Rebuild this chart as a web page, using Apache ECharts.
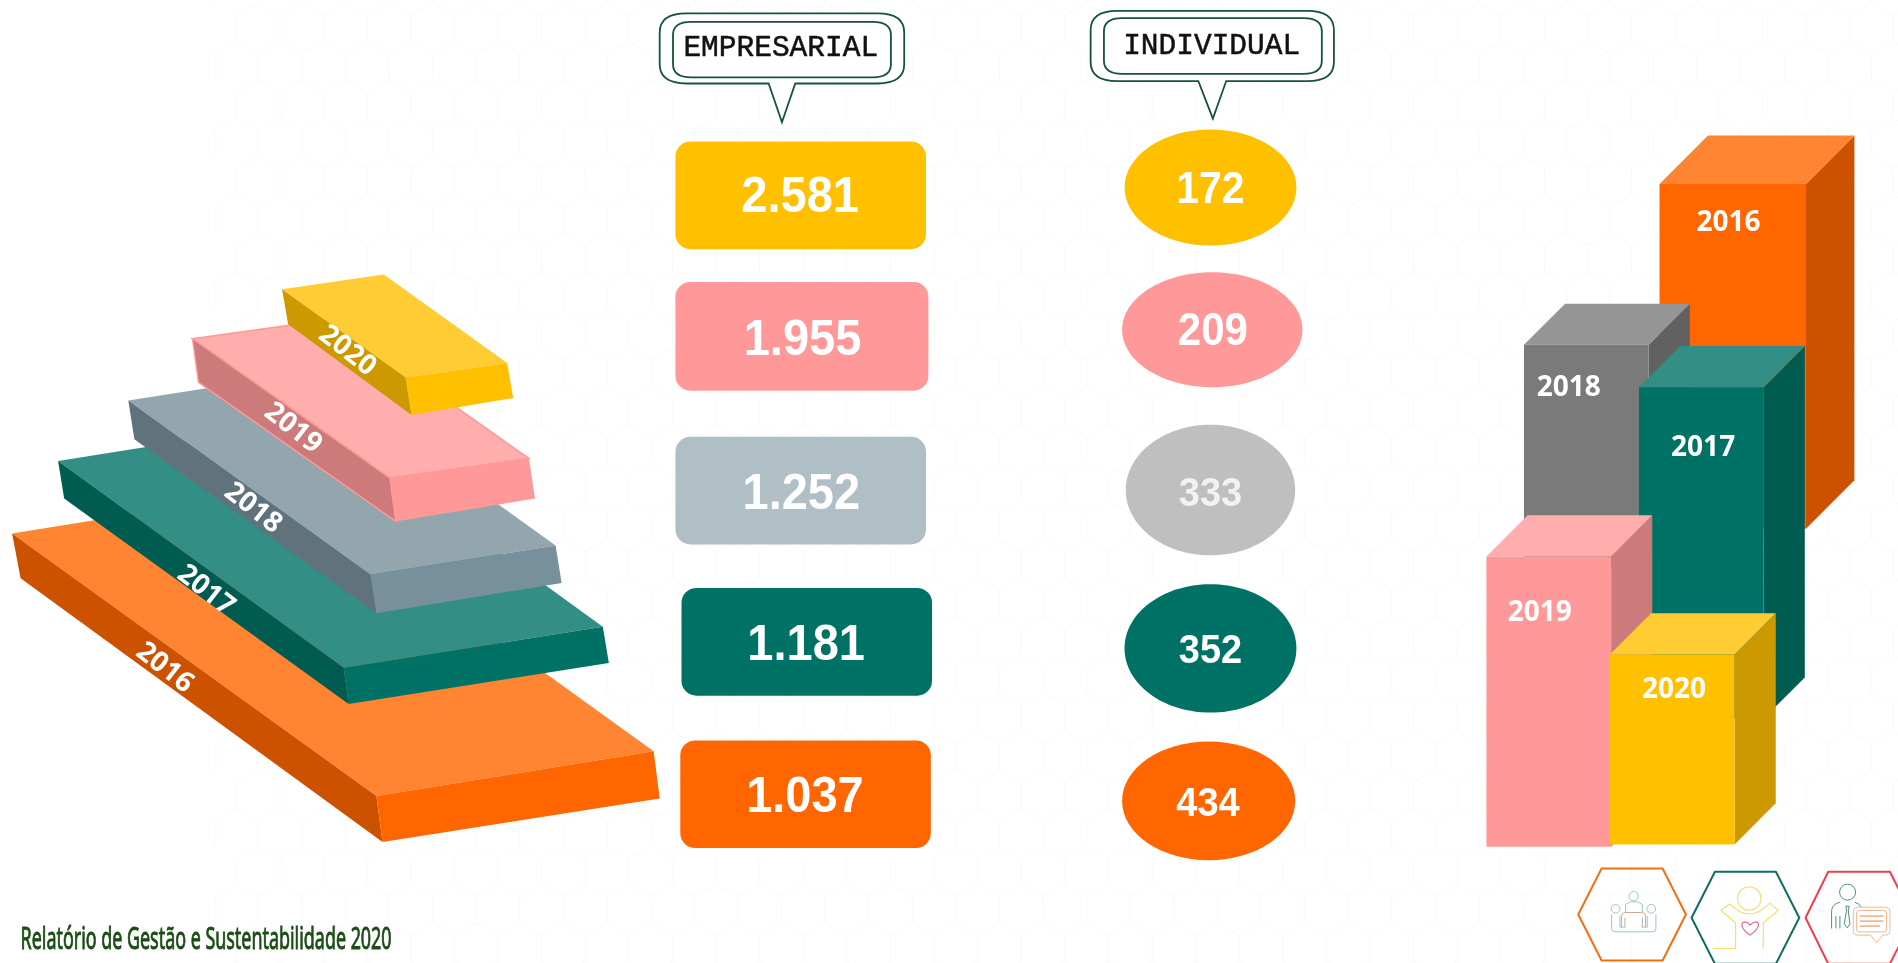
<!DOCTYPE html>
<html>
<head>
<meta charset="utf-8">
<style>html,body{margin:0;padding:0;background:#fff;overflow:hidden}#c{width:1898px;height:963px}</style>
<script src="https://cdn.jsdelivr.net/npm/echarts@6/dist/echarts.min.js"></script>
</head>
<body>
<div id="c"></div>
<script>
// ---- values ----
const years = ['2016', '2017', '2018', '2019', '2020'];
const empresarial = [1037, 1181, 1252, 1955, 2581];
const individual = [434, 352, 333, 209, 172];
const headers = ['EMPRESARIAL', 'INDIVIDUAL'];
const footer = 'Relatório de Gestão e Sustentabilidade 2020';

// ---- styles ----
const pillColors = ['#FF6600', '#007265', '#B0BEC5', '#FF9999', '#FFC000'];
const ovalColors = ['#FF6600', '#007265', '#BFBFBF', '#FF9999', '#FFC000'];
const slabColors = [
  {top: '#FF8533', side: '#CC5200', front: '#FF6600'},
  {top: '#338E85', side: '#005B51', front: '#007265'},
  {top: '#93A6AE', side: '#60737D', front: '#78909C'},
  {top: '#FFADAD', side: '#CC7A7A', front: '#FF9999'},
  {top: '#FFCD33', side: '#CC9A00', front: '#FFC000'}
];
const columnColors = [
  slabColors[0], slabColors[1],
  {top: '#959595', side: '#616161', front: '#7A7A7A'},
  slabColors[3], slabColors[4]
];

// ---- layout, in units of a hidden full-page 1568 x 796 coordinate system ----
const pillBoxes = [[562,612,769,701],[563,486,770,575],[558,361,765,450],[558,233,767,323],[558,117,765,206]];
const pillText = [[665,660],[666,534],[662,409],[663,282],[661,164]];
const ovalBoxes = [[927,613,1070,711],[929,483,1071,589],[930,351,1070,459],[927,225,1076,320],[929,107,1071,203]];
const ovalText = [[998,665,38],[1000,539,38],[1000,409,38],[1002,275,42],[1000,158,41]];
const slabCorners = [ // left, leftBottom, corner, cornerBottom, right, rightBottom
  [[10,441],[17,478],[311,658],[316,696],[540,621],[545,660]],
  [[48,381],[53,412],[284,552],[288,582],[498,518],[503,548]],
  [[106,331],[111,363],[306,475],[311,507],[459,451],[464,482]],
  [[159,280],[164,316],[322,395],[327,431],[437,379],[442,412]],
  [[233,239],[238,268],[335,312],[340,343],[419,300],[424,329]]
];
const slabText = [[136,552],[170,488],[209,420],[242,354],[287,290]];
const columnOrder = [0, 2, 1, 3, 4];
const columnBoxes = [ // x0, top, x1, bottom, depth
  [1371,152,1492,437,40],[1354,320,1457,594,34],[1259,285,1362,470,34],[1228,460,1331,700,34],[1330,541,1433,698,34]
];
const columnText = [[1428,184],[1407,370],[1296,321],[1272,507],[1383,570]];
const bubbles = [
  {outer:[545,11,747,69], inner:[556,18,736,64], tail:[635,657,646,101], text:[645,40]},
  {outer:[901,9,1102,67], inner:[912,15,1092,61], tail:[990,1013,1002,98], text:[1001,38]}
];

const FONT_LABEL = '"Open Sans", sans-serif';
const FONT_NUM = '"Liberation Sans", Arial, sans-serif';

function fmt(v) { return String(v).replace(/\B(?=(\d{3})+$)/g, '.'); }

function renderHex(params, api) {
  const U = 1568 / 1898, w = 43.6 * U, drop = 11.7 * U, side = 26.65 * U;
  let d = '';
  const P = (x, y) => api.coord([x, y]).join(' ');
  for (let r = -1; r < 27; r++) {
    const y = (15 + 38.35 * r) * U, x0 = ((1370 % 43.6) + (r % 2 ? -21.8 : 0)) * U;
    for (let k = 0; k < 46; k++) {
      const x = x0 + k * w;
      if (x < 175) continue;
      d += 'M' + P(x, y + side) + 'L' + P(x, y) + 'L' + P(x + w / 2, y - drop) + 'L' + P(x + w, y);
    }
  }
  return {type: 'path', shape: {pathData: d}, style: {fill: 'none', stroke: '#F6FBFB', lineWidth: 1}};
}

function renderSlab(params, api) {
  const i = params.dataIndex, c = slabColors[i];
  const [L, LB, C, CB, R, RB] = slabCorners[i];
  const B = [R[0] - (C[0] - L[0]), R[1] - (C[1] - L[1])];
  const pts = a => a.map(p => api.coord(p));
  const stroke = i === 3 ? {stroke: '#FF9999', lineWidth: 1.5} : {};
  const t = api.coord(slabText[i]);
  return {type: 'group', children: [
    {type: 'polygon', shape: {points: pts([L, B, R, C])}, style: Object.assign({fill: c.top}, stroke)},
    {type: 'polygon', shape: {points: pts([L, LB, CB, C])}, style: Object.assign({fill: c.side}, stroke)},
    {type: 'polygon', shape: {points: pts([C, CB, RB, R])}, style: {fill: c.front}},
    {type: 'text', x: t[0], y: t[1], rotation: -38 * Math.PI / 180, style: {
      text: years[api.value(0)], fill: '#fff', font: 'bold 28px ' + FONT_LABEL, align: 'center', verticalAlign: 'middle'}}
  ]};
}

function renderPill(params, api) {
  const i = params.dataIndex, b = pillBoxes[i];
  const a = api.coord([b[0], b[1]]), z = api.coord([b[2], b[3]]), t = api.coord(pillText[i]);
  return {type: 'group', children: [
    {type: 'rect', shape: {x: a[0], y: a[1], width: z[0] - a[0], height: z[1] - a[1], r: 15}, style: {fill: pillColors[i]}},
    {type: 'text', x: t[0], y: t[1], scaleY: 1.08, style: {text: fmt(api.value(1)), fill: '#fff', font: 'bold 47px ' + FONT_NUM, align: 'center', verticalAlign: 'middle'}}
  ]};
}

function renderOval(params, api) {
  const i = params.dataIndex, b = ovalBoxes[i];
  const a = api.coord([b[0], b[1]]), z = api.coord([b[2], b[3]]), t = api.coord(ovalText[i]);
  return {type: 'group', children: [
    {type: 'ellipse', shape: {cx: (a[0] + z[0]) / 2, cy: (a[1] + z[1]) / 2, rx: (z[0] - a[0]) / 2, ry: (z[1] - a[1]) / 2}, style: {fill: ovalColors[i]}},
    {type: 'text', x: t[0], y: t[1], scaleY: 1.08, style: {text: String(api.value(1)), fill: i === 2 ? '#F2F2F2' : '#fff', font: 'bold ' + ovalText[i][2] + 'px ' + FONT_NUM, align: 'center', verticalAlign: 'middle'}}
  ]};
}

function renderColumn(params, api) {
  const i = columnOrder[params.dataIndex];
  const [x0, y0, x1, y1, d] = columnBoxes[i], c = columnColors[i];
  const pts = a => a.map(p => api.coord(p));
  const t = api.coord(columnText[i]);
  return {type: 'group', children: [
    {type: 'polygon', shape: {points: pts([[x1,y0],[x1+d,y0-d],[x1+d,y1-d],[x1,y1]])}, style: {fill: c.side}},
    {type: 'polygon', shape: {points: pts([[x0,y0],[x0+d,y0-d],[x1+d,y0-d],[x1,y0]])}, style: {fill: c.top}},
    {type: 'polygon', shape: {points: pts([[x0,y0],[x1,y0],[x1,y1],[x0,y1]])}, style: {fill: c.front}},
    {type: 'text', x: t[0], y: t[1], style: {text: years[i], fill: '#fff', font: 'bold 28px ' + FONT_LABEL, align: 'center', verticalAlign: 'middle'}}
  ]};
}

function renderBubble(params, api) {
  const b = bubbles[params.dataIndex];
  const P = (x, y) => api.coord([x, y]).join(' ');
  const rr = (box, r, tail) => {
    const [x0, y0, x1, y1] = box, v = r * .72;
    let s = 'M' + P(x0 + r, y0) + 'L' + P(x1 - r, y0) + 'Q' + P(x1, y0) + ' ' + P(x1, y0 + v) + 'L' + P(x1, y1 - v) + 'Q' + P(x1, y1) + ' ' + P(x1 - r, y1);
    if (tail) s += 'L' + P(tail[1], y1) + 'L' + P(tail[2], tail[3]) + 'L' + P(tail[0], y1);
    return s + 'L' + P(x0 + r, y1) + 'Q' + P(x0, y1) + ' ' + P(x0, y1 - v) + 'L' + P(x0, y0 + v) + 'Q' + P(x0, y0) + ' ' + P(x0 + r, y0) + 'Z';
  };
  const t = api.coord(b.text);
  return {type: 'group', children: [
    {type: 'path', shape: {pathData: rr(b.outer, 22, b.tail)}, style: {fill: '#fff', stroke: '#17533A', lineWidth: 1.8}},
    {type: 'path', shape: {pathData: rr(b.inner, 15)}, style: {fill: '#fff', stroke: '#17533A', lineWidth: 1.8}},
    {type: 'text', x: t[0], y: t[1], style: {text: headers[params.dataIndex], fill: '#111', stroke: '#111', lineWidth: 0.5, font: '29.5px "Liberation Mono", monospace', align: 'center', verticalAlign: 'middle'}}
  ]};
}

function renderFooter(params, api) {
  const a = api.coord([17, 777]);
  const font = '30px "Noto Sans", sans-serif';
  const ctx = document.createElement('canvas').getContext('2d');
  ctx.font = font;
  const sx = 371 / ctx.measureText(footer).width;
  return {type: 'text', x: a[0], y: a[1], scaleX: sx, scaleY: 1, style: {text: footer, fill: '#1A4D14', stroke: '#1A4D14', lineWidth: 0.9, font, align: 'left', verticalAlign: 'middle'}};
}

function renderIcons(params, api) {
  const o = api.coord([1288.7, 706.3]); // origin of the icon strip
  const path = (d, stroke, lw, fill) => ({type: 'path', shape: {pathData: d}, style: {fill: fill || 'none', stroke, lineWidth: lw, lineJoin: 'round'}});
  const circ = (cx, cy, r, stroke, lw) => ({type: 'circle', shape: {cx, cy, r}, style: {fill: 'none', stroke, lineWidth: lw}});
  const teal = '#8FCFBD', brown = '#C9A995', yel = '#F6DE6E', pink = '#E36A9A', tl2 = '#4F8F88', or2 = '#F0B890';
  return {type: 'group', x: o[0], y: o[1], scaleX: 1 / 3, scaleY: 1 / 3, children: [
    path('M125 42L308 42L378 180L308 318L125 318L55 180Z', '#F07010', 6),
    path('M465 52L648 52L718 190L648 328L465 328L395 190Z', '#0F6E5E', 6),
    path('M805 52L990 52L1060 190L990 328L805 328L737 190Z', '#EE3E4E', 6),
    circ(221, 125, 14, teal, 3), circ(167, 163, 13, teal, 3), circ(274, 163, 13, teal, 3),
    path('M197 174V150L212 142H232L247 150V174', teal, 3),
    path('M155 180V222Q155 232 165 232H278Q288 232 288 222V180', teal, 3),
    path('M180 185V218H195M262 185V218H247', teal, 3),
    path('M185 218V185Q185 174 196 174H245Q257 174 257 185V218M195 218V190M247 218V190', brown, 3),
    circ(568, 132, 35, yel, 3.5),
    path('M510 148L483 168L527 205V282H460M510 148Q568 210 630 146L655 168L610 205V282', yel, 3.5),
    path('M570 242C540 220 540 200 558 203C565 204 570 212 570 212C570 212 578 204 585 203C602 201 600 222 570 242Z', pink, 3.5),
    circ(863, 113, 24, tl2, 3),
    path('M815 222V170Q815 150 840 143M885 143Q900 148 905 160M828 222V185M840 222V185', tl2, 3),
    path('M858 155H868L865 168L870 208L862 220L853 208L860 168Z', tl2, 3),
    path('M895 158H975Q990 158 990 173V228Q990 242 975 242H968L950 265L932 242H895Q880 242 880 228V173Q880 158 895 158Z', or2, 3, '#fff'),
    path('M898 168H972Q980 168 980 176V224Q980 232 972 232H898Q890 232 890 224V176Q890 168 898 168Z', or2, 3),
    path('M900 185H970M900 200H970M900 215H960', or2, 5)
  ]};
}

const single = [[0, 0]];
const custom = (name, renderItem, data) => ({
  type: 'custom', name, renderItem, data, clip: false, silent: true, animation: false
});

echarts.init(document.getElementById('c')).setOption({
  backgroundColor: '#fff',
  animation: false,
  grid: {left: 0, right: 0, top: 0, bottom: 0},
  xAxis: {type: 'value', min: 0, max: 1568, show: false},
  yAxis: {type: 'value', min: 0, max: 796, inverse: true, show: false},
  series: [
    custom('padrão', renderHex, single),
    custom('anos (lajes)', renderSlab, years.map((y, i) => [i, 0])),
    custom('Empresarial', renderPill, empresarial.map((v, i) => [i, v])),
    custom('Individual', renderOval, individual.map((v, i) => [i, v])),
    custom('anos (colunas)', renderColumn, columnOrder.map(i => [i, 0])),
    custom('títulos', renderBubble, headers.map((h, i) => [i, 0])),
    custom('rodapé', renderFooter, single),
    custom('ícones', renderIcons, single)
  ]
});
</script>
</body>
</html>
